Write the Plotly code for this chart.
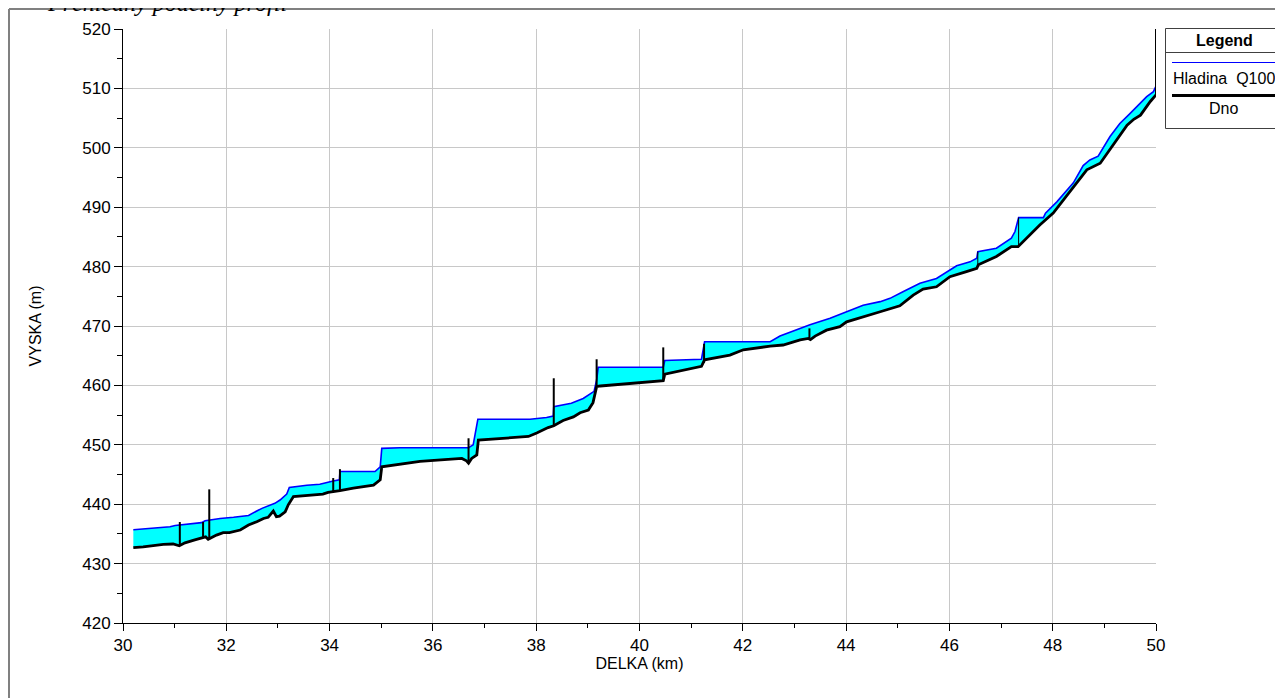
import plotly.graph_objects as go

# ---------------- data ----------------
water_km = [30.20, 30.91, 31.01, 31.52, 31.59, 31.65, 31.88, 32.14, 32.43, 32.59,
            32.69, 32.94, 33.04, 33.17, 33.22, 33.56, 33.81, 34.07, 34.19, 34.20,
            34.88, 34.98, 35.01, 35.36, 36.69, 36.78, 36.87, 37.88, 38.20, 38.33,
            38.34, 38.68, 38.91, 39.12, 39.17, 39.20, 40.46, 40.49, 41.20, 41.26,
            42.53, 42.72, 43.11, 43.30, 43.69, 44.01, 44.33, 44.66, 44.85, 45.11,
            45.43, 45.75, 46.14, 46.40, 46.53, 46.55, 46.91, 47.20, 47.27, 47.34,
            47.82, 47.86, 48.08, 48.40, 48.59, 48.72, 48.88, 49.11, 49.30, 49.50,
            49.66, 49.82, 49.95, 50.00]
water_m = [435.7, 436.2, 436.4, 436.9, 437.2, 437.3, 437.6, 437.8, 438.1, 438.85,
           439.3, 440.15, 440.7, 441.7, 442.8, 443.2, 443.35, 443.9, 444.1, 445.5,
           445.5, 446.3, 449.4, 449.5, 449.5, 450.0, 454.3, 454.3, 454.6, 454.85,
           456.4, 457.0, 457.8, 459.0, 460.9, 463.05, 463.05, 464.2, 464.4, 467.35,
           467.35, 468.3, 469.6, 470.2, 471.3, 472.4, 473.5, 474.1, 474.65, 475.8,
           477.2, 478.0, 480.15, 480.8, 481.4, 482.5, 483.1, 484.8, 485.9, 488.25,
           488.25, 489.0, 490.9, 494.1, 497.0, 497.95, 498.6, 501.9, 504.1, 505.8,
           507.2, 508.6, 509.45, 510.4]

bed_km = [30.20, 30.39, 30.78, 30.97, 31.09, 31.20, 31.39, 31.52, 31.60, 31.65,
          31.81, 31.94, 32.06, 32.27, 32.43, 32.59, 32.72, 32.81, 32.91, 32.97,
          33.03, 33.14, 33.20, 33.30, 33.49, 33.68, 33.87, 33.97, 34.10, 34.20,
          34.46, 34.85, 34.98, 35.01, 35.75, 36.56, 36.65, 36.69, 36.75, 36.85,
          36.88, 37.85, 38.01, 38.23, 38.34, 38.52, 38.72, 38.85, 39.01, 39.10,
          39.17, 39.24, 40.46, 40.49, 41.20, 41.26, 41.75, 42.01, 42.53, 42.78,
          43.11, 43.27, 43.31, 43.40, 43.62, 43.88, 44.01, 44.33, 44.66, 45.04,
          45.30, 45.49, 45.75, 46.01, 46.14, 46.33, 46.53, 46.56, 46.91, 47.20,
          47.33, 47.75, 48.01, 48.21, 48.53, 48.66, 48.92, 49.18, 49.44, 49.57,
          49.70, 49.89, 50.00]
bed_m = [432.7, 432.8, 433.25, 433.3, 433.0, 433.5, 434.0, 434.3, 434.5, 434.1,
         434.8, 435.2, 435.2, 435.65, 436.5, 437.05, 437.6, 437.8, 438.85, 437.9,
         438.0, 438.7, 439.9, 441.3, 441.4, 441.6, 441.7, 442.0, 442.1, 442.3,
         442.7, 443.2, 444.1, 446.3, 447.2, 447.7, 447.3, 446.9, 447.7, 448.3,
         450.8, 451.4, 452.0, 452.9, 453.2, 454.1, 454.7, 455.4, 455.85, 457.1,
         459.8, 459.9, 460.8, 461.9, 463.2, 464.3, 465.1, 466.0, 466.6, 466.8,
         467.65, 467.9, 467.7, 468.3, 469.3, 469.9, 470.7, 471.6, 472.4, 473.4,
         475.2, 476.2, 476.6, 478.3, 478.6, 479.15, 479.7, 480.3, 481.7, 483.35,
         483.35, 487.0, 489.0, 491.2, 494.85, 496.3, 497.4, 500.5, 503.8, 504.8,
         505.5, 507.8, 508.9]

# structures (bridges / weirs) drawn as vertical lines
struct_km = [31.10, 31.55, 31.67, 34.07, 34.20, 36.69, 38.34, 39.17, 40.46, 41.25, 43.29, 50.00]
struct_bottom = [433.0, 434.3, 434.1, 442.1, 442.3, 446.9, 453.2, 459.8, 460.8, 463.8, 467.8, 508.9]
struct_top = [437.0, 437.0, 442.5, 444.4, 445.9, 451.1, 461.2, 464.4, 466.4, 467.0, 469.6, 520.0]

thin_km = [46.55, 47.34]
thin_bottom = [480.3, 483.35]
thin_top = [482.5, 488.25]

x_ticks = [30, 32, 34, 36, 38, 40, 42, 44, 46, 48, 50]
y_ticks = [420, 430, 440, 450, 460, 470, 480, 490, 500, 510, 520]

title_text = "Přehledný podélný profil"
legend_title = "Legend"
legend_water = "Hladina  Q100"
legend_bed = "Dno"


def seg(xs, b, t):
    X, Y = [], []
    for x, lo, hi in zip(xs, b, t):
        X += [x, x, None]
        Y += [lo, hi, None]
    return X, Y


# ---------------- figure ----------------
# page body has an 8px margin; the figure is sized/placed so the plot
# area lands at window pixels x 123..1156, y 29..623
OFF = 8
W, H = 1283 - OFF, 698 - OFF
PL, PT, PR, PB = 123, 29, 1156, 623           # plot area in window pixels
L, T = PL - OFF, PT - OFF
R, B = W - (PR - OFF), H - (PB - OFF)
PW, PH = PR - PL, PB - PT


def px(xw):
    return (xw - PL) / PW


def py(yw):
    return (PB - yw) / PH


fig = go.Figure()

fig.add_trace(go.Scatter(x=bed_km, y=bed_m, mode="lines",
                         line=dict(width=0, color="black"),
                         hoverinfo="skip", showlegend=False))
fig.add_trace(go.Scatter(x=water_km, y=water_m, mode="lines", fill="tonexty",
                         fillcolor="#00ffff", line=dict(color="#0000ff", width=1.6),
                         name=legend_water, showlegend=False))
fig.add_trace(go.Scatter(x=bed_km, y=bed_m, mode="lines",
                         line=dict(color="black", width=2.8),
                         name=legend_bed, showlegend=False))
sx, sy = seg(struct_km, struct_bottom, struct_top)
fig.add_trace(go.Scatter(x=sx, y=sy, mode="lines",
                         line=dict(color="black", width=2), showlegend=False))
tx, ty = seg(thin_km, thin_bottom, thin_top)
fig.add_trace(go.Scatter(x=tx, y=ty, mode="lines",
                         line=dict(color="black", width=1), showlegend=False))

axis_font = dict(family="Liberation Sans, Arial, sans-serif", size=17, color="black")
title_font = dict(family="Liberation Sans, Arial, sans-serif", size=16, color="black")

fig.update_xaxes(range=[30, 50], tickvals=x_ticks, ticks="outside", ticklen=7,
                 tickcolor="black", showline=True, linecolor="black", linewidth=1,
                 showgrid=True, gridcolor="#c8c8c8", gridwidth=1, zeroline=False,
                 tickfont=axis_font,
                 minor=dict(dtick=1, ticks="outside", ticklen=4, tickcolor="black", showgrid=False),
                 title=dict(text="DELKA (km)", font=title_font, standoff=3))
fig.update_yaxes(range=[420, 520], tickvals=y_ticks, ticks="outside", ticklen=8,
                 tickcolor="black", showline=True, linecolor="black", linewidth=1,
                 showgrid=True, gridcolor="#c8c8c8", gridwidth=1, zeroline=False,
                 tickfont=axis_font,
                 minor=dict(dtick=5, ticks="outside", ticklen=5, tickcolor="black", showgrid=False),
                 title=dict(text="VYSKA (m)", font=title_font, standoff=36))

shapes = [
    # outer frame
    dict(type="line", xref="paper", yref="paper", x0=px(9), x1=px(1290), y0=py(9), y1=py(9),
         line=dict(color="#808080", width=2)),
    dict(type="line", xref="paper", yref="paper", x0=px(9), x1=px(9), y0=py(9), y1=py(705),
         line=dict(color="#808080", width=2)),
    # legend box
    dict(type="rect", xref="paper", yref="paper", x0=px(1165.5), x1=px(1281.5), y0=py(28.5), y1=py(128.5),
         line=dict(color="#404040", width=1), fillcolor="white"),
    dict(type="line", xref="paper", yref="paper", x0=px(1165.5), x1=px(1281.5), y0=py(52.5), y1=py(52.5),
         line=dict(color="#404040", width=1)),
    dict(type="line", xref="paper", yref="paper", x0=px(1172), x1=px(1278), y0=py(62.5), y1=py(62.5),
         line=dict(color="#0000ff", width=1)),
    dict(type="line", xref="paper", yref="paper", x0=px(1172), x1=px(1278), y0=py(95.5), y1=py(95.5),
         line=dict(color="black", width=3)),
]

legend_font = dict(family="Liberation Sans, Arial, sans-serif", size=16, color="black")
annotations = [
    dict(text=title_text, xref="paper", yref="paper", x=px(45), y=py(18), xanchor="left",
         yanchor="bottom", showarrow=False,
         font=dict(family="Liberation Serif, Times New Roman, serif", size=24, color="black", style="italic")),
    dict(text="<b>" + legend_title + "</b>", xref="paper", yref="paper", x=px(1224), y=py(40.5),
         xanchor="center", yanchor="middle", showarrow=False, font=legend_font),
    dict(text=legend_water, xref="paper", yref="paper", x=px(1223.5), y=py(79),
         xanchor="center", yanchor="middle", showarrow=False, font=legend_font),
    dict(text=legend_bed, xref="paper", yref="paper", x=px(1223), y=py(108.5),
         xanchor="center", yanchor="middle", showarrow=False, font=legend_font),
]

fig.update_layout(width=W, height=H, margin=dict(l=L, r=R, t=T, b=B, autoexpand=False),
                  plot_bgcolor="white", paper_bgcolor="white", showlegend=False,
                  shapes=shapes, annotations=annotations)

fig.write_html("out.html")
